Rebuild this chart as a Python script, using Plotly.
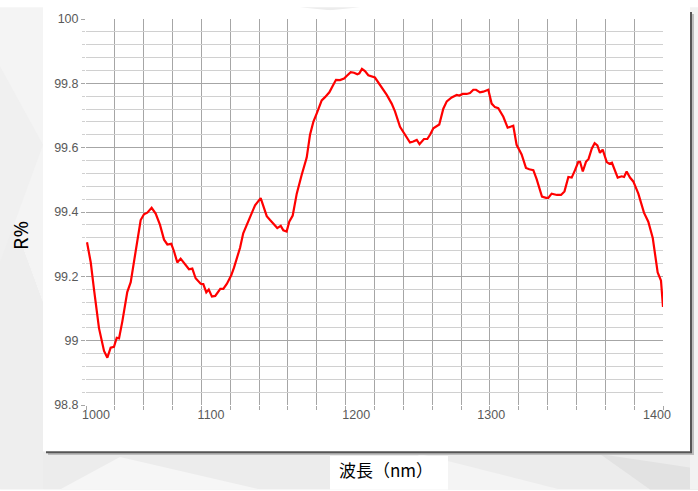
import plotly.graph_objects as go

# ---- data (wavelength nm, reflectance %) ----
wavelength = [
    1000.7, 1003.3, 1005.5, 1009.0, 1012.5, 1014.8, 1017.1, 1019.4, 1021.3, 1022.9,
    1025.2, 1028.6, 1031.0, 1033.3, 1035.6, 1037.9, 1040.2, 1042.5, 1045.5, 1048.3,
    1051.3, 1054.1, 1056.4, 1059.1, 1061.0, 1063.3, 1065.6, 1067.9, 1071.4, 1073.7,
    1076.0, 1079.5, 1081.3, 1083.4, 1085.1, 1087.3, 1089.6, 1093.1, 1095.2, 1097.7,
    1100.7, 1102.6, 1104.5, 1106.8, 1109.0, 1112.5, 1117.2, 1121.1, 1122.9, 1125.3,
    1127.6, 1130.3, 1132.6, 1135.0, 1136.8, 1139.1, 1140.9, 1143.3, 1146.1, 1149.5,
    1151.8, 1153.0, 1155.3, 1157.6, 1159.9, 1163.4, 1165.7, 1168.7, 1171.0, 1173.3,
    1176.1, 1178.9, 1180.7, 1183.5, 1185.8, 1188.1, 1189.5, 1191.3, 1193.4, 1195.7,
    1200.3, 1203.8, 1208.5, 1211.9, 1214.2, 1217.7, 1221.1, 1224.6, 1226.9, 1229.3,
    1231.2, 1234.3, 1236.6, 1238.5, 1240.8, 1244.9, 1247.7, 1250.1, 1253.5, 1257.0,
    1258.8, 1261.1, 1263.9, 1266.2, 1268.5, 1270.4, 1273.1, 1275.4, 1278.9, 1281.2,
    1283.5, 1285.8, 1289.3, 1292.3, 1296.2, 1298.5, 1302.0, 1305.0, 1307.3, 1310.1,
    1312.4, 1316.1, 1318.9, 1320.5, 1322.8, 1326.5, 1329.3, 1331.7, 1334.4, 1336.7,
    1339.0, 1341.3, 1342.5, 1344.4, 1346.6, 1348.4, 1350.6, 1352.6, 1354.5, 1356.3,
    1358.2, 1361.0, 1362.8, 1364.6, 1368.6, 1371.4, 1373.0, 1374.8, 1377.1, 1379.4,
    1382.9, 1386.8, 1389.8, 1392.9, 1396.3, 1398.6, 1400.0,
]
reflectance = [
    99.306, 99.243, 99.161, 99.039, 98.968, 98.947, 98.978, 98.981, 99.009, 99.007,
    99.060, 99.151, 99.182, 99.243, 99.314, 99.375, 99.393, 99.398, 99.413, 99.395,
    99.360, 99.314, 99.299, 99.301, 99.278, 99.243, 99.255, 99.243, 99.222, 99.224,
    99.194, 99.177, 99.176, 99.150, 99.159, 99.137, 99.139, 99.161, 99.161, 99.177,
    99.203, 99.227, 99.258, 99.289, 99.334, 99.370, 99.421, 99.443, 99.416, 99.387,
    99.375, 99.363, 99.350, 99.357, 99.343, 99.339, 99.370, 99.389, 99.457, 99.515,
    99.548, 99.569, 99.640, 99.680, 99.706, 99.747, 99.757, 99.772, 99.792, 99.811,
    99.810, 99.815, 99.823, 99.835, 99.833, 99.828, 99.831, 99.845, 99.838, 99.825,
    99.818, 99.795, 99.764, 99.737, 99.713, 99.665, 99.640, 99.616, 99.619, 99.624,
    99.611, 99.627, 99.627, 99.640, 99.660, 99.672, 99.721, 99.744, 99.756, 99.764,
    99.762, 99.767, 99.767, 99.770, 99.780, 99.780, 99.772, 99.774, 99.780, 99.737,
    99.726, 99.723, 99.696, 99.662, 99.668, 99.609, 99.579, 99.537, 99.533, 99.530,
    99.502, 99.448, 99.444, 99.444, 99.457, 99.453, 99.453, 99.464, 99.509, 99.507,
    99.530, 99.556, 99.556, 99.526, 99.556, 99.565, 99.597, 99.614, 99.607, 99.584,
    99.594, 99.555, 99.550, 99.553, 99.507, 99.511, 99.509, 99.526, 99.507, 99.495,
    99.457, 99.398, 99.370, 99.319, 99.212, 99.187, 99.105,
]

# tick labels (as placed in the reference)
x_tick_text = ["1000", "1100", "1200", "1300", "1400"]
x_tick_pos = [1006.9, 1086.7, 1187.3, 1280.9, 1395.8]
y_tick_vals = [98.8, 99.0, 99.2, 99.4, 99.6, 99.8, 100.0]
y_tick_text = ["98.8", "99", "99.2", "99.4", "99.6", "99.8", "100"]

W, H = 698, 491
L, R, T, B = 86, 35, 12, 86
PW, PH = W - L - R, H - T - B


def px(x):
    return (x - L) / PW


def py(y):
    return (H - B - y) / PH


fig = go.Figure()
fig.add_trace(go.Scatter(
    x=wavelength, y=reflectance, mode="lines",
    line=dict(color="#ff0000", width=2.2), hoverinfo="skip", showlegend=False,
))

shapes = []
# faint low-poly background
polys = [
    ([(0, 0), (43, 0), (43, 300), (0, 180)], "#f4f4f4"),
    ([(0, 180), (43, 300), (43, 491), (0, 491)], "#eeeeee"),
    ([(0, 60), (43, 140), (0, 260)], "#f0f0f0"),
    ([(43, 452), (698, 452), (698, 491), (43, 491)], "#ececec"),
    ([(120, 458), (260, 491), (60, 491)], "#f6f6f6"),
    ([(420, 455), (560, 491), (380, 491)], "#f4f4f4"),
    ([(600, 455), (698, 470), (698, 491), (650, 491)], "#e2e2e2"),
    ([(690, 0), (698, 0), (698, 491), (690, 491)], "#f2f2f2"),
    ([(300, 0), (360, 0), (330, 3)], "#ececec"),
]
for pts, col in polys:
    path = "M " + " L ".join(f"{px(a):.4f},{py(b):.4f}" for a, b in pts) + " Z"
    shapes.append(dict(type="path", xref="paper", yref="paper", path=path,
                       fillcolor=col, line=dict(width=0), layer="below"))
# panel shadow + panel
shapes.append(dict(type="rect", xref="paper", yref="paper",
                   x0=px(48), x1=px(694), y0=py(456), y1=py(7),
                   fillcolor="#bdbdbd", line=dict(width=0), layer="below"))
shapes.append(dict(type="rect", xref="paper", yref="paper",
                   x0=px(46), x1=px(692), y0=py(454), y1=py(5),
                   fillcolor="#555555", line=dict(width=0), layer="below"))
shapes.append(dict(type="rect", xref="paper", yref="paper",
                   x0=px(43), x1=px(690), y0=py(452), y1=py(3),
                   fillcolor="#ffffff", line=dict(width=0), layer="below"))
# white box behind x title
shapes.append(dict(type="rect", xref="paper", yref="paper",
                   x0=px(330), x1=px(448), y0=py(491), y1=py(457),
                   fillcolor="#ffffff", line=dict(width=0), layer="below"))

tick_font = dict(family="Liberation Sans, Arial, sans-serif", size=12.5, color="#595959")

fig.update_layout(
    width=W, height=H,
    margin=dict(l=L, r=R, t=T, b=B, pad=0),
    paper_bgcolor="#ffffff", plot_bgcolor="rgba(0,0,0,0)",
    shapes=shapes,
    xaxis=dict(
        range=[1000, 1400], showline=False, zeroline=False,
        tickmode="array", tickvals=x_tick_pos, ticktext=x_tick_text,
        ticks="", showgrid=False, tickfont=tick_font,
        minor=dict(tickmode="linear", tick0=1000, dtick=20, showgrid=True,
                   gridcolor="#a6a6a6", gridwidth=1, ticks="outside",
                   ticklen=4, tickcolor="#a6a6a6"),
    ),
    yaxis=dict(
        range=[98.8, 100], showline=False, zeroline=False,
        tickmode="array", tickvals=y_tick_vals, ticktext=y_tick_text,
        ticks="outside", ticklen=4, tickcolor="#a6a6a6",
        showgrid=True, gridcolor="#a6a6a6", gridwidth=1, tickfont=tick_font,
        minor=dict(tickmode="linear", tick0=98.8, dtick=0.04, showgrid=True,
                   gridcolor="#d0d0d0", gridwidth=1, ticks="outside",
                   ticklen=3, tickcolor="#d0d0d0"),
    ),
    annotations=[
        dict(text="波長（nm）", xref="paper", yref="paper", x=px(386), y=py(471),
             showarrow=False, xanchor="center", yanchor="middle",
             font=dict(family="Noto Sans CJK JP", size=17, color="#000000")),
        dict(text="R%", xref="paper", yref="paper", x=px(20), y=py(233),
             showarrow=False, xanchor="center", yanchor="middle", textangle=-90,
             font=dict(family="Noto Sans, sans-serif", size=20, color="#000000")),
    ],
)

fig.write_html(
    "out.html",
    config={"displayModeBar": False},
    post_script="document.body.style.margin='0';document.body.style.overflow='hidden';",
)
